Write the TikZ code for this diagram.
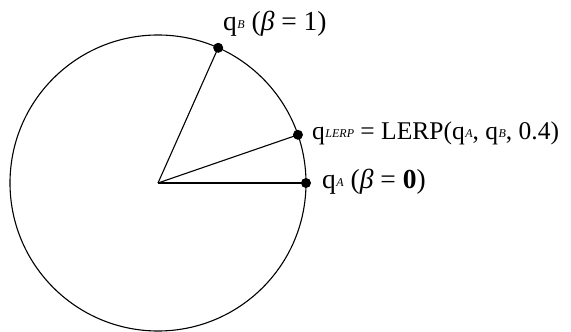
\documentclass[tikz,border=0pt]{standalone}
\usepackage{fontspec}
\setmainfont{Liberation Serif}
\usetikzlibrary{calc}
\newcommand{\qsub}[1]{q\kern0.5pt\raisebox{2pt}{\fontsize{12}{12}\selectfont\itshape #1}}
\begin{document}
\begin{tikzpicture}[x=1pt,y=1pt,
  edge/.style={line width=1.1pt, black},
  dot/.style={circle, fill=black, inner sep=0pt, minimum size=10pt},
  lbl/.style={anchor=base west, inner sep=0pt, font=\fontsize{25.5}{25.5}\selectfont},
  blbl/.style={anchor=base west, inner sep=0pt, font=\fontsize{27.5}{27.5}\selectfont}]
\useasboundingbox (0,0) rectangle (571,332);
\coordinate (O) at (158,149);
\draw[edge] (O) circle (148);
\node[dot] (A) at ($(O)+(0:148)$) {};
\node[dot] (L) at ($(O)+(19:148)$) {};
\node[dot] (B) at ($(O)+(66:148)$) {};
\draw[edge] (O) -- (A.center);
\draw[edge] (O) -- (L.center);
\draw[edge] (O) -- (B.center);
\node[blbl] (la) at (322,143) {\qsub{A} (\textit{β} = \textbf{0})};
\node[lbl] (ll) at (312,192) {\qsub{LERP} = LERP(\qsub{A}, \qsub{B}, 0.4)};
\node[blbl] (lb) at (223,301) {\qsub{B} (\textit{β} = 1)};
\end{tikzpicture}
\end{document}
